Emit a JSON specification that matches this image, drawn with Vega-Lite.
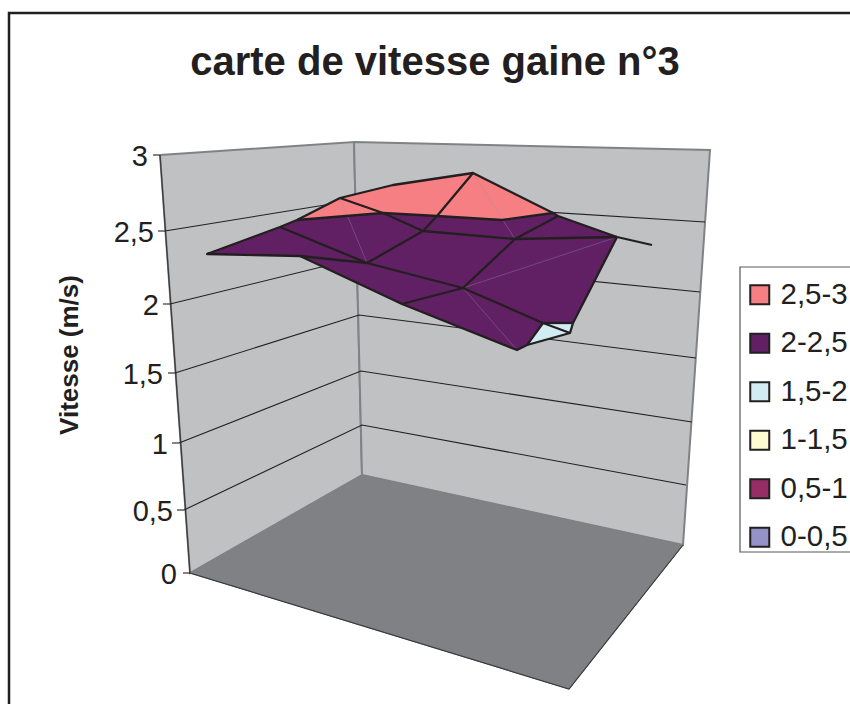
{"$schema":"https://vega.github.io/schema/vega-lite/v6.json","width":850,"height":704,"padding":0,"autosize":{"type":"none"},"background":"white","view":{"stroke":null},
"datasets":{
"walls":[{"p":"left","i":0,"x":160,"y":155},{"p":"left","i":1,"x":354,"y":142},{"p":"left","i":2,"x":362,"y":475},{"p":"left","i":3,"x":190,"y":573},{"p":"left","i":4,"x":160,"y":155},{"p":"right","i":0,"x":354,"y":142},{"p":"right","i":1,"x":710,"y":150},{"p":"right","i":2,"x":683,"y":545},{"p":"right","i":3,"x":362,"y":475},{"p":"right","i":4,"x":354,"y":142}],
"floor":[{"i":0,"x":190,"y":573},{"i":1,"x":362,"y":475},{"i":2,"x":683,"y":545},{"i":3,"x":569,"y":689},{"i":4,"x":190,"y":573}],
"edges":[{"l":"axis","i":0,"x":160,"y":155},{"l":"axis","i":1,"x":190,"y":573},{"l":"axis","i":2,"x":569,"y":689},{"l":"axis","i":3,"x":683,"y":545}],
"grid":[
{"v":"0,5","i":0,"x":184,"y":510},{"v":"0,5","i":1,"x":362,"y":425},{"v":"0,5","i":2,"x":686,"y":485},
{"v":"1","i":0,"x":179,"y":443},{"v":"1","i":1,"x":361,"y":371},{"v":"1","i":2,"x":692,"y":422},
{"v":"1,5","i":0,"x":175,"y":373},{"v":"1,5","i":1,"x":359,"y":315},{"v":"1,5","i":2,"x":696,"y":358},
{"v":"2","i":0,"x":170,"y":304},{"v":"2","i":1,"x":358,"y":258},{"v":"2","i":2,"x":700,"y":292},
{"v":"2,5","i":0,"x":165,"y":231},{"v":"2,5","i":1,"x":356,"y":200},{"v":"2,5","i":2,"x":705,"y":222}],
"ticks":[
{"v":"0","i":0,"x":183,"y":573,"lx":177},{"v":"0","i":1,"x":190,"y":573},
{"v":"0,5","i":0,"x":177,"y":510,"lx":173},{"v":"0,5","i":1,"x":184,"y":510},
{"v":"1","i":0,"x":172,"y":443,"lx":168},{"v":"1","i":1,"x":179,"y":443},
{"v":"1,5","i":0,"x":168,"y":373,"lx":163},{"v":"1,5","i":1,"x":175,"y":373},
{"v":"2","i":0,"x":163,"y":304,"lx":159},{"v":"2","i":1,"x":170,"y":304},
{"v":"2,5","i":0,"x":158,"y":231,"lx":154},{"v":"2,5","i":1,"x":165,"y":231},
{"v":"3","i":0,"x":153,"y":155,"lx":148},{"v":"3","i":1,"x":160,"y":155}],
"surface":[
{"c":"2-2,5","i":0,"x":207,"y":254},{"c":"2-2,5","i":1,"x":280,"y":227},{"c":"2-2,5","i":2,"x":297,"y":220},{"c":"2-2,5","i":3,"x":383,"y":213},{"c":"2-2,5","i":4,"x":437,"y":216},{"c":"2-2,5","i":5,"x":502,"y":220},{"c":"2-2,5","i":6,"x":553,"y":213},{"c":"2-2,5","i":7,"x":558,"y":216},{"c":"2-2,5","i":8,"x":617,"y":237},{"c":"2-2,5","i":9,"x":573,"y":323},{"c":"2-2,5","i":10,"x":543,"y":323},{"c":"2-2,5","i":11,"x":527,"y":345},{"c":"2-2,5","i":12,"x":517,"y":350},{"c":"2-2,5","i":13,"x":402,"y":304},{"c":"2-2,5","i":14,"x":300,"y":256},{"c":"2-2,5","i":15,"x":207,"y":254},
{"c":"2,5-3","i":0,"x":297,"y":220},{"c":"2,5-3","i":1,"x":340,"y":198},{"c":"2,5-3","i":2,"x":393,"y":185},{"c":"2,5-3","i":3,"x":473,"y":173},{"c":"2,5-3","i":4,"x":553,"y":213},{"c":"2,5-3","i":5,"x":502,"y":220},{"c":"2,5-3","i":6,"x":437,"y":216},{"c":"2,5-3","i":7,"x":383,"y":213},{"c":"2,5-3","i":8,"x":297,"y":220},
{"c":"1,5-2","i":0,"x":543,"y":323},{"c":"1,5-2","i":1,"x":573,"y":323},{"c":"1,5-2","i":2,"x":570,"y":333},{"c":"1,5-2","i":3,"x":527,"y":345},{"c":"1,5-2","i":4,"x":543,"y":323}],
"mesh":[
{"l":"outline","i":0,"x":300,"y":256},{"l":"outline","i":1,"x":207,"y":254},{"l":"outline","i":2,"x":280,"y":227},{"l":"outline","i":3,"x":297,"y":220},{"l":"outline","i":4,"x":340,"y":198},{"l":"outline","i":5,"x":393,"y":185},{"l":"outline","i":6,"x":473,"y":173},{"l":"outline","i":7,"x":553,"y":213},{"l":"outline","i":8,"x":558,"y":216},{"l":"outline","i":9,"x":617,"y":237},{"l":"outline","i":10,"x":652,"y":245},
{"l":"outer","i":0,"x":617,"y":237},{"l":"outer","i":1,"x":573,"y":323},{"l":"outer","i":2,"x":570,"y":333},{"l":"outer","i":3,"x":527,"y":345},{"l":"outer","i":4,"x":517,"y":350},{"l":"outer","i":5,"x":402,"y":304},{"l":"outer","i":6,"x":300,"y":256},
{"l":"a","i":0,"x":340,"y":198},{"l":"a","i":1,"x":383,"y":213},{"l":"a","i":2,"x":423,"y":231},{"l":"a","i":3,"x":515,"y":239},{"l":"a","i":4,"x":617,"y":237},
{"l":"b","i":0,"x":280,"y":227},{"l":"b","i":1,"x":367,"y":263},{"l":"b","i":2,"x":463,"y":288},{"l":"b","i":3,"x":543,"y":323},{"l":"b","i":4,"x":570,"y":333},
{"l":"c","i":0,"x":473,"y":173},{"l":"c","i":1,"x":437,"y":216},{"l":"c","i":2,"x":423,"y":231},{"l":"c","i":3,"x":367,"y":263},
{"l":"d","i":0,"x":558,"y":216},{"l":"d","i":1,"x":515,"y":239},{"l":"d","i":2,"x":463,"y":288},{"l":"d","i":3,"x":402,"y":304},
{"l":"e","i":0,"x":297,"y":220},{"l":"e","i":1,"x":383,"y":213},{"l":"e","i":2,"x":437,"y":216},{"l":"e","i":3,"x":502,"y":220},{"l":"e","i":4,"x":553,"y":213},
{"l":"f","i":0,"x":300,"y":256},{"l":"f","i":1,"x":367,"y":263},
{"l":"g","i":0,"x":543,"y":323},{"l":"g","i":1,"x":527,"y":345},
{"l":"h","i":0,"x":543,"y":323},{"l":"h","i":1,"x":573,"y":323}],
"faint":[
{"l":"a","i":0,"x":340,"y":198},{"l":"a","i":1,"x":367,"y":263},
{"l":"b","i":0,"x":473,"y":173},{"l":"b","i":1,"x":515,"y":239},
{"l":"c","i":0,"x":463,"y":288},{"l":"c","i":1,"x":617,"y":237},
{"l":"d","i":0,"x":463,"y":288},{"l":"d","i":1,"x":517,"y":350}],
"frame":[{"i":0,"x":9,"y":704},{"i":1,"x":9,"y":13},{"i":2,"x":850,"y":13}],
"legendbox":[{"i":0,"x":850,"y":267},{"i":1,"x":740,"y":267},{"i":2,"x":740,"y":552},{"i":3,"x":850,"y":552}]
},
"encoding":{"x":{"field":"x","type":"quantitative","scale":{"domain":[0,850]},"axis":null},"y":{"field":"y","type":"quantitative","scale":{"domain":[704,0]},"axis":null},"order":{"field":"i","type":"quantitative"}},
"layer":[
{"data":{"name":"frame"},"mark":{"type":"line","stroke":"#231f20","strokeWidth":2.5},"encoding":{}},
{"data":{"name":"legendbox"},"mark":{"type":"line","stroke":"#58595b","strokeWidth":1.2},"encoding":{}},
{"data":{"name":"walls"},"mark":{"type":"line","fill":"#c0c1c3","stroke":"#808285","strokeWidth":2},"encoding":{"detail":{"field":"p"}}},
{"data":{"name":"floor"},"mark":{"type":"line","fill":"#808184","stroke":"#808184","strokeWidth":1},"encoding":{}},
{"data":{"name":"edges"},"mark":{"type":"line","stroke":"#3a3a3c","strokeWidth":1.2},"encoding":{}},
{"data":{"name":"grid"},"mark":{"type":"line","stroke":"#231f20","strokeWidth":1.1},"encoding":{"detail":{"field":"v"}}},
{"data":{"name":"ticks"},"mark":{"type":"line","stroke":"#231f20","strokeWidth":1.1},"encoding":{"detail":{"field":"v"}}},
{"data":{"name":"surface"},"mark":{"type":"line","stroke":null},"encoding":{"detail":{"field":"c"},"fill":{"field":"c","type":"nominal","scale":{"domain":["2,5-3","2-2,5","1,5-2","1-1,5","0,5-1","0-0,5"],"range":["#f57f82","#612063","#d1edf3","#fdfbd0","#972d64","#9493c7"]},"legend":{"orient":"none","legendX":745,"legendY":280,"title":null,"symbolType":"square","symbolSize":361,"symbolStrokeColor":"#231f20","symbolStrokeWidth":2,"symbolOpacity":1,"labelFont":"Liberation Sans","labelFontSize":29.5,"labelColor":"#231f20","padding":0,"rowPadding":17.5,"labelOffset":6,"labelLimit":200}}}},
{"data":{"name":"faint"},"mark":{"type":"line","stroke":"#a58fb0","strokeWidth":0.5,"opacity":0.7},"encoding":{"detail":{"field":"l"}}},
{"data":{"name":"mesh"},"mark":{"type":"line","stroke":"#231f20","strokeWidth":2.3,"strokeJoin":"round"},"encoding":{"detail":{"field":"l"}}},
{"data":{"name":"ticks"},"transform":[{"filter":"datum.i==0"}],"mark":{"type":"text","align":"right","baseline":"middle","font":"Liberation Sans","fontSize":29,"color":"#231f20","dy":2},"encoding":{"x":{"field":"lx","type":"quantitative"},"text":{"field":"v"},"order":{"value":null}}},
{"data":{"values":[{"t":"carte de vitesse gaine n°3","x":435,"y":63}]},"mark":{"type":"text","font":"Liberation Sans","fontWeight":"bold","fontSize":40,"color":"#231f20","baseline":"middle"},"encoding":{"text":{"field":"t"},"order":{"value":null}}},
{"data":{"values":[{"t":"Vitesse (m/s)","x":70,"y":355}]},"mark":{"type":"text","font":"Liberation Sans","fontWeight":"bold","fontSize":26,"color":"#231f20","angle":270,"baseline":"middle"},"encoding":{"text":{"field":"t"},"order":{"value":null}}}
]}
